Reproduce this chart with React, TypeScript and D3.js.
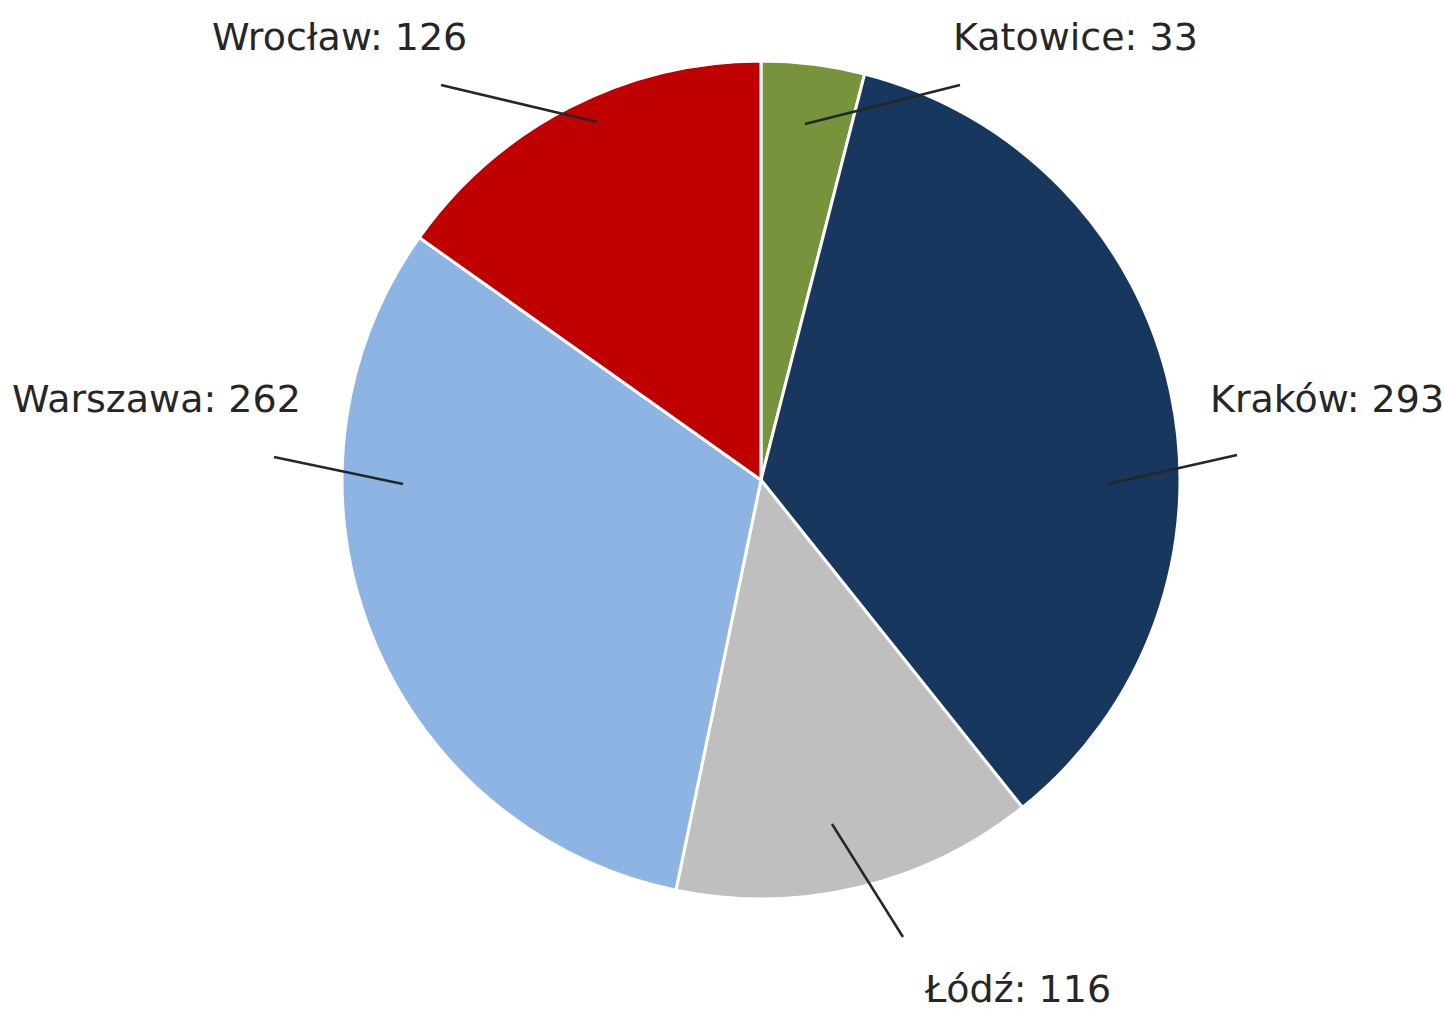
import React, { useEffect, useRef } from "react";
import * as d3 from "d3";

// city values (clockwise from 12 o'clock)
const cities = ["Katowice", "Kraków", "Łódź", "Warszawa", "Wrocław"];
const counts = [33, 293, 116, 262, 126];
const colors = ["#77933C", "#17375E", "#BFBFBF", "#8EB4E3", "#C00000"];

const W = 1444;
const H = 1009;
const cx = 761;
const cy = 480;
const radius = 419;

// label placement (text start + leader line ends), relative to pie centre
const labelLayout = [
  { tx: 192, ty: -430, x1: 44, y1: -356, x2: 199, y2: -395 },
  { tx: 449, ty: -68, x1: 347, y1: 4, x2: 476, y2: -25 },
  { tx: 164, ty: 522, x1: 71, y1: 344, x2: 142, y2: 457 },
  { tx: -749, ty: -68, x1: -358, y1: 4, x2: -487, y2: -23 },
  { tx: -549, ty: -430, x1: -164, y1: -358, x2: -320, y2: -395 },
];

const App: React.FC = () => {
  const svgRef = useRef<SVGSVGElement | null>(null);

  useEffect(() => {
    if (!svgRef.current) return;
    const svg = d3.select(svgRef.current);
    svg.selectAll("*").remove();

    const data = cities.map((c, i) => ({ name: c, value: counts[i], color: colors[i] }));

    const pie = d3
      .pie<{ name: string; value: number; color: string }>()
      .sort(null)
      .value((d) => d.value);

    const arc = d3
      .arc<d3.PieArcDatum<{ name: string; value: number; color: string }>>()
      .innerRadius(0)
      .outerRadius(radius);

    const g = svg.append("g").attr("transform", `translate(${cx},${cy})`);

    g.selectAll("path")
      .data(pie(data))
      .enter()
      .append("path")
      .attr("d", arc)
      .attr("fill", (d) => d.data.color)
      .attr("stroke", "#ffffff")
      .attr("stroke-width", 3)
      .attr("stroke-linejoin", "round");

    // leader lines
    g.selectAll("line.leader")
      .data(labelLayout)
      .enter()
      .append("line")
      .attr("class", "leader")
      .attr("x1", (d) => d.x1)
      .attr("y1", (d) => d.y1)
      .attr("x2", (d) => d.x2)
      .attr("y2", (d) => d.y2)
      .attr("stroke", "#262626")
      .attr("stroke-width", 2.5);

    // labels
    g.selectAll("text.lbl")
      .data(data)
      .enter()
      .append("text")
      .attr("class", "lbl")
      .attr("x", (_, i) => labelLayout[i].tx)
      .attr("y", (_, i) => labelLayout[i].ty)
      .attr("font-family", "'DejaVu Sans', sans-serif")
      .attr("font-size", 38)
      .attr("fill", "#262626")
      .text((d) => `${d.name}: ${d.value}`);
  }, []);

  return (
    <div style={{ position: "fixed", left: 0, top: 0, background: "#fff" }}>
      <svg ref={svgRef} width={W} height={H} style={{ display: "block" }} />
    </div>
  );
};

export default App;
